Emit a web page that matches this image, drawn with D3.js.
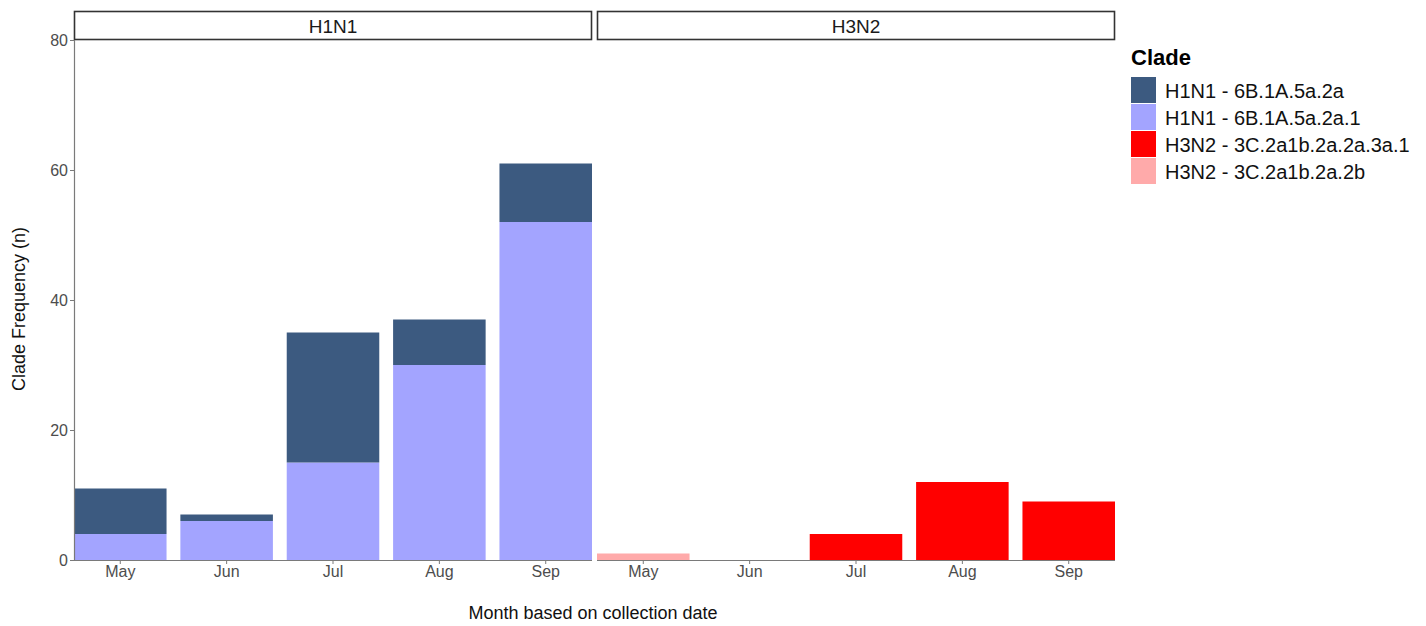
<!DOCTYPE html>
<html><head><meta charset="utf-8">
<script src="https://cdn.jsdelivr.net/npm/d3@7"></script>
<style>body{margin:0;background:#fff}svg{display:block;font-family:"Liberation Sans",Arial,sans-serif}</style>
</head><body><svg id="c" width="1426" height="626"></svg>
<script>
const months = ["May","Jun","Jul","Aug","Sep"];
const panels = ["H1N1","H3N2"];
const clades = ["H1N1 - 6B.1A.5a.2a","H1N1 - 6B.1A.5a.2a.1","H3N2 - 3C.2a1b.2a.2a.3a.1","H3N2 - 3C.2a1b.2a.2b"];
const cladeColors = ["#3c5a80","#a3a4ff","#ff0000","#ffaaaa"];
// values per month (May..Sep)
const h1_5a2a   = [7,1,20,7,9];
const h1_5a2a1  = [4,6,15,30,52];
const h3_3a1    = [0,0,4,12,9];
const h3_2b     = [1,0,0,0,0];
const yTicks = [0,20,40,60,80];

const series = {
  "H1N1":[{clade:clades[1],v:h1_5a2a1},{clade:clades[0],v:h1_5a2a}],
  "H3N2":[{clade:clades[3],v:h3_2b},{clade:clades[2],v:h3_3a1}]
};

const svg = d3.select("#c");
const color = d3.scaleOrdinal(clades, cladeColors);
const plotTop = 40, plotBottom = 560;
const y = d3.scaleLinear([0,80],[plotBottom,plotTop]);
const panelX = {"H1N1":[74,592],"H3N2":[597,1115]};
const axisCol = "#7a7a7a", textCol = "#4d4d4d";
const FF = "Liberation Sans, Arial, sans-serif";

panels.forEach(p => {
  const [x0,x1] = panelX[p];
  const x = d3.scaleBand(months,[x0,x1]).paddingInner(0.13).paddingOuter(0);
  const g = svg.append("g");
  const base = months.map(()=>0);
  series[p].forEach(s => {
    months.forEach((m,i) => {
      const v = s.v[i];
      if (v>0) {
        g.append("rect").attr("x",x(m)).attr("width",x.bandwidth())
          .attr("y",y(base[i]+v)).attr("height",y(base[i])-y(base[i]+v))
          .attr("fill",color(s.clade));
      }
      base[i]+=v;
    });
  });
  const xa = svg.append("g").attr("transform",`translate(0,${plotBottom})`)
    .call(d3.axisBottom(x).tickSize(4).tickPadding(2).tickSizeOuter(0));
  xa.select(".domain").attr("stroke",axisCol).attr("stroke-width",1.2).attr("d",`M${x0},0.5H${x1}`);
  xa.selectAll(".tick line").attr("stroke",axisCol);
  xa.selectAll(".tick text").attr("fill",textCol).style("font-size","16px").style("font-family",FF);
  svg.append("rect").attr("x",x0+0.5).attr("y",11.5).attr("width",x1-x0-1).attr("height",28)
    .attr("fill","#fff").attr("stroke","#333").attr("stroke-width",1.6);
  svg.append("text").attr("x",(x0+x1)/2).attr("y",33).attr("text-anchor","middle")
    .attr("fill","#1a1a1a").style("font-size","19px").text(p);
});

const ya = svg.append("g").attr("transform",`translate(74,0)`)
  .call(d3.axisLeft(y).tickValues(yTicks).tickSize(4).tickPadding(2).tickSizeOuter(0));
ya.select(".domain").attr("stroke",axisCol).attr("stroke-width",1.2).attr("d",`M0.5,${plotTop}V${plotBottom}`);
ya.selectAll(".tick line").attr("stroke",axisCol);
ya.selectAll(".tick text").attr("fill",textCol).style("font-size","16px").style("font-family",FF);

svg.append("text").attr("transform","translate(25,309) rotate(-90)").attr("text-anchor","middle")
  .attr("fill","#111").style("font-size","18px").text("Clade Frequency (n)");
svg.append("text").attr("x",593).attr("y",619).attr("text-anchor","middle")
  .attr("fill","#111").style("font-size","18px").text("Month based on collection date");

const lg = svg.append("g");
lg.append("text").attr("x",1131).attr("y",65).attr("fill","#000").style("font-size","22px").style("font-weight","bold").text("Clade");
clades.forEach((c,i) => {
  const yy = 77 + i*27;
  lg.append("rect").attr("x",1131).attr("y",yy).attr("width",25).attr("height",26).attr("fill",color(c));
  lg.append("text").attr("x",1165).attr("y",yy+21).attr("fill","#111").style("font-size","20px").text(c);
});
</script></body></html>
